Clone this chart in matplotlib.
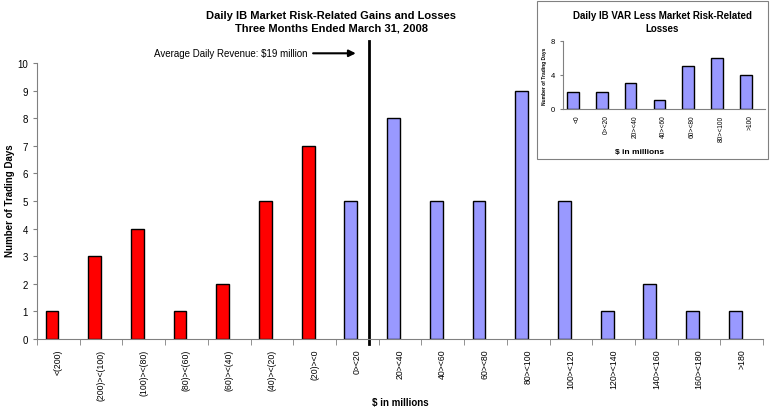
import matplotlib.pyplot as plt
from matplotlib.patches import Rectangle
import numpy as np

plt.rcParams['font.family'] = ['Liberation Sans', 'DejaVu Sans']

# main histogram data
loss_labels = ['<(200)', '(200)><(100)', '(100)><(80)', '(80)><(60)', '(60)><(40)',
               '(40)><(20)', '(20)><0']
loss_days = [1, 3, 4, 1, 2, 5, 7]
gain_labels = ['0><20', '20><40', '40><60', '60><80', '80><100', '100><120',
               '120><140', '140><160', '160><180', '>180']
gain_days = [5, 8, 5, 5, 9, 5, 1, 2, 1, 1]
avg_revenue_pos = 7.28   # $19 million, position on the category axis

# inset data
var_labels = ['<0', '0><20', '20><40', '40><60', '60><80', '80><100', '>100']
var_days = [2, 2, 3, 1, 5, 6, 4]

red = '#FF0000'
blue = '#9999FF'

fig = plt.figure(figsize=(7.7, 4.1), dpi=100)

# ---- main chart
ax = fig.add_axes([0.048, 0.171, 0.943, 0.673])
labels = loss_labels + gain_labels
x_loss = np.arange(len(loss_labels))
x_gain = np.arange(len(loss_labels), len(labels))
ax.bar(x_loss - 0.15, loss_days, width=0.3, color=red, edgecolor='black', linewidth=1)
ax.bar(x_gain - 0.15, gain_days, width=0.3, color=blue, edgecolor='black', linewidth=1)

ax.set_xlim(-0.5, len(labels) - 0.5)
ax.set_ylim(0, 10)
ax.set_yticks(range(0, 11))
ax.set_xticks(range(len(labels)))
ax.set_xticklabels(labels, rotation=90, fontsize=6.3)
ax.set_xticks(np.arange(-0.5, len(labels)), minor=True)
ax.tick_params(axis='x', which='major', length=0, pad=7)
ax.tick_params(axis='x', which='minor', length=4, color='#808080')
ax.tick_params(axis='y', labelsize=7, length=3, color='#808080')
for s in ['top', 'right']:
    ax.spines[s].set_visible(False)
for s in ['left', 'bottom']:
    ax.spines[s].set_color('#808080')

fig.text(0.013, 0.51, 'Number of Trading Days', rotation=90, fontsize=7,
         fontweight='bold', ha='center', va='center')
fig.text(0.52, 0.017, '$ in millions', fontsize=7, fontweight='bold',
         ha='center', va='center')

# average revenue marker
ax.plot([avg_revenue_pos, avg_revenue_pos], [-0.2, 10.8], color='black', linewidth=2,
        clip_on=False)
ax.annotate('', xy=(avg_revenue_pos - 0.25, 10.35), xytext=(5.9, 10.35),
            arrowprops=dict(arrowstyle='-|>', color='black', lw=1.5, mutation_scale=10),
            annotation_clip=False)
ax.text(2.25, 10.35, 'Average Daily Revenue: $19 million', fontsize=7, va='center',
        ha='left')

fig.text(0.43, 0.946, 'Daily IB Market Risk-Related Gains and Losses\nThree Months Ended March 31, 2008',
         ha='center', va='center', fontsize=8, fontweight='bold', linespacing=1.3)

# ---- inset
fig.patches.append(Rectangle((0.697, 0.61), 0.3, 0.385, transform=fig.transFigure,
                             facecolor='white', edgecolor='#808080', linewidth=0.8,
                             zorder=5))
ix = fig.add_axes([0.731, 0.732, 0.262, 0.166], zorder=6)
ix.patch.set_alpha(0)
xv = np.arange(len(var_labels))
ix.bar(xv - 0.15, var_days, width=0.4, color=blue, edgecolor='black', linewidth=1)
ix.set_xlim(-0.5, len(var_labels) - 0.5)
ix.set_ylim(0, 8)
ix.set_yticks([0, 4, 8])
ix.set_xticks(xv)
ix.set_xticklabels(var_labels, rotation=90, fontsize=4.8)
ix.tick_params(axis='x', length=0, pad=4)
ix.tick_params(axis='y', labelsize=5.5, length=2, color='#808080')
for s in ['top', 'right']:
    ix.spines[s].set_visible(False)
for s in ['left', 'bottom']:
    ix.spines[s].set_color('#808080')
ix.set_ylabel('Number of Trading Days', fontsize=3.5, fontweight='bold', labelpad=3)
fig.text(0.83, 0.627, '$ in millions', fontsize=6, fontweight='bold',
         ha='center', va='center', zorder=7)
fig.text(0.86, 0.945, 'Daily IB VAR Less Market Risk-Related\nLosses', fontsize=7,
         fontweight='bold', ha='center', va='center', zorder=7, linespacing=1.4)

fig.savefig('out.png', dpi=100)
